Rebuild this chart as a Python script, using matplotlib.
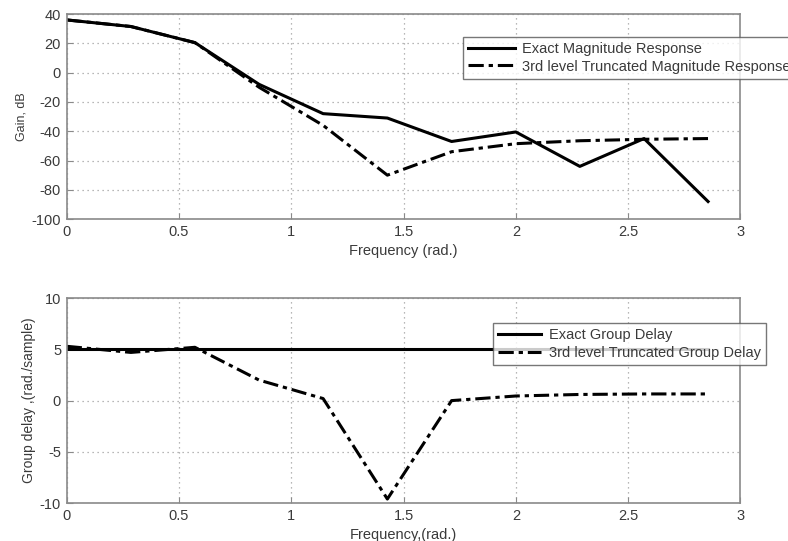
import numpy as np
from matplotlib import pyplot as plt

plt.rcParams["font.family"] = ["Liberation Sans", "DejaVu Sans"]
plt.rcParams["axes.unicode_minus"] = False

# frequency samples (k * pi / 11)
freq = [0.0, 0.286, 0.571, 0.857, 1.142, 1.428, 1.714, 2.0, 2.285, 2.571, 2.856]

# magnitude response [dB]
gain_exact = [36, 31.5, 20.5, -8, -28, -31, -47, -40.5, -64, -45, -88]
gain_trunc = [36, 31.5, 20.5, -10, -36, -70, -54, -48.5, -46.5, -45.5, -45]

# group delay [rad./sample]
gd_exact = [5, 5, 5, 5, 5, 5, 5, 5, 5, 5, 5]
gd_trunc = [5.3, 4.7, 5.2, 2.0, 0.2, -9.6, 0.0, 0.45, 0.6, 0.65, 0.65]

txt = "#3a3a3a"
spine = "#8a8a8a"
dashdot = (0, (5, 1.6, 1.4, 1.6))

fig = plt.figure(figsize=(7.88, 5.41), dpi=100)
ax1 = fig.add_axes([0.0846, 0.595, 0.855, 0.379])
ax2 = fig.add_axes([0.0846, 0.070, 0.855, 0.379])

ax1.plot(freq, gain_exact, color="black", lw=2.2, label="Exact Magnitude Response")
ax1.plot(freq, gain_trunc, color="black", lw=2.2, linestyle=dashdot,
         label="3rd level Truncated Magnitude Response")
ax1.set_xlim(0, 3)
ax1.set_ylim(-100, 40)
ax1.set_yticks(range(-100, 41, 20))
ax1.set_xticks([0, 0.5, 1, 1.5, 2, 2.5, 3])
ax1.set_xticklabels(["0", "0.5", "1", "1.5", "2", "2.5", "3"])
ax1.set_xlabel("Frequency (rad.)", fontsize=10.5, color=txt, labelpad=4)
ax1.set_ylabel("Gain, dB", fontsize=9, color=txt, labelpad=3)

ax2.plot(freq, gd_exact, color="black", lw=2.2, label="Exact Group Delay")
ax2.plot(freq, gd_trunc, color="black", lw=2.2, linestyle=dashdot,
         label="3rd level Truncated Group Delay")
ax2.set_xlim(0, 3)
ax2.set_ylim(-10, 10)
ax2.set_yticks([-10, -5, 0, 5, 10])
ax2.set_xticks([0, 0.5, 1, 1.5, 2, 2.5, 3])
ax2.set_xticklabels(["0", "0.5", "1", "1.5", "2", "2.5", "3"])
ax2.set_xlabel("Frequency,(rad.)", fontsize=10.5, color=txt, labelpad=4)
ax2.set_ylabel("Group delay ,(rad./sample)", fontsize=10, color=txt, labelpad=3)

for ax in (ax1, ax2):
    ax.grid(True, linestyle=(0, (1, 3)), color="#a0a0a0", lw=0.9)
    ax.tick_params(direction="in", length=4, colors=spine, labelcolor=txt,
                   labelsize=10.5, pad=4)
    for s in ax.spines.values():
        s.set_color(spine)
        s.set_linewidth(1.2)

leg1 = ax1.legend(loc="upper left", bbox_to_anchor=(0.5876, 0.932),
                  bbox_transform=fig.transFigure, fontsize=10.5, frameon=True,
                  fancybox=False, handlelength=3.2, borderpad=0.35,
                  labelspacing=0.25, handletextpad=0.5, borderaxespad=0)
leg2 = ax2.legend(loc="upper left", bbox_to_anchor=(0.625, 0.4024),
                  bbox_transform=fig.transFigure, fontsize=10.5, frameon=True,
                  fancybox=False, handlelength=3.0, borderpad=0.35,
                  labelspacing=0.25, handletextpad=0.5, borderaxespad=0)
for leg in (leg1, leg2):
    leg.get_frame().set_edgecolor("#555555")
    leg.get_frame().set_linewidth(1.0)
    for t in leg.get_texts():
        t.set_color(txt)

fig.savefig("out.png", dpi=100)
plt.close(fig)
